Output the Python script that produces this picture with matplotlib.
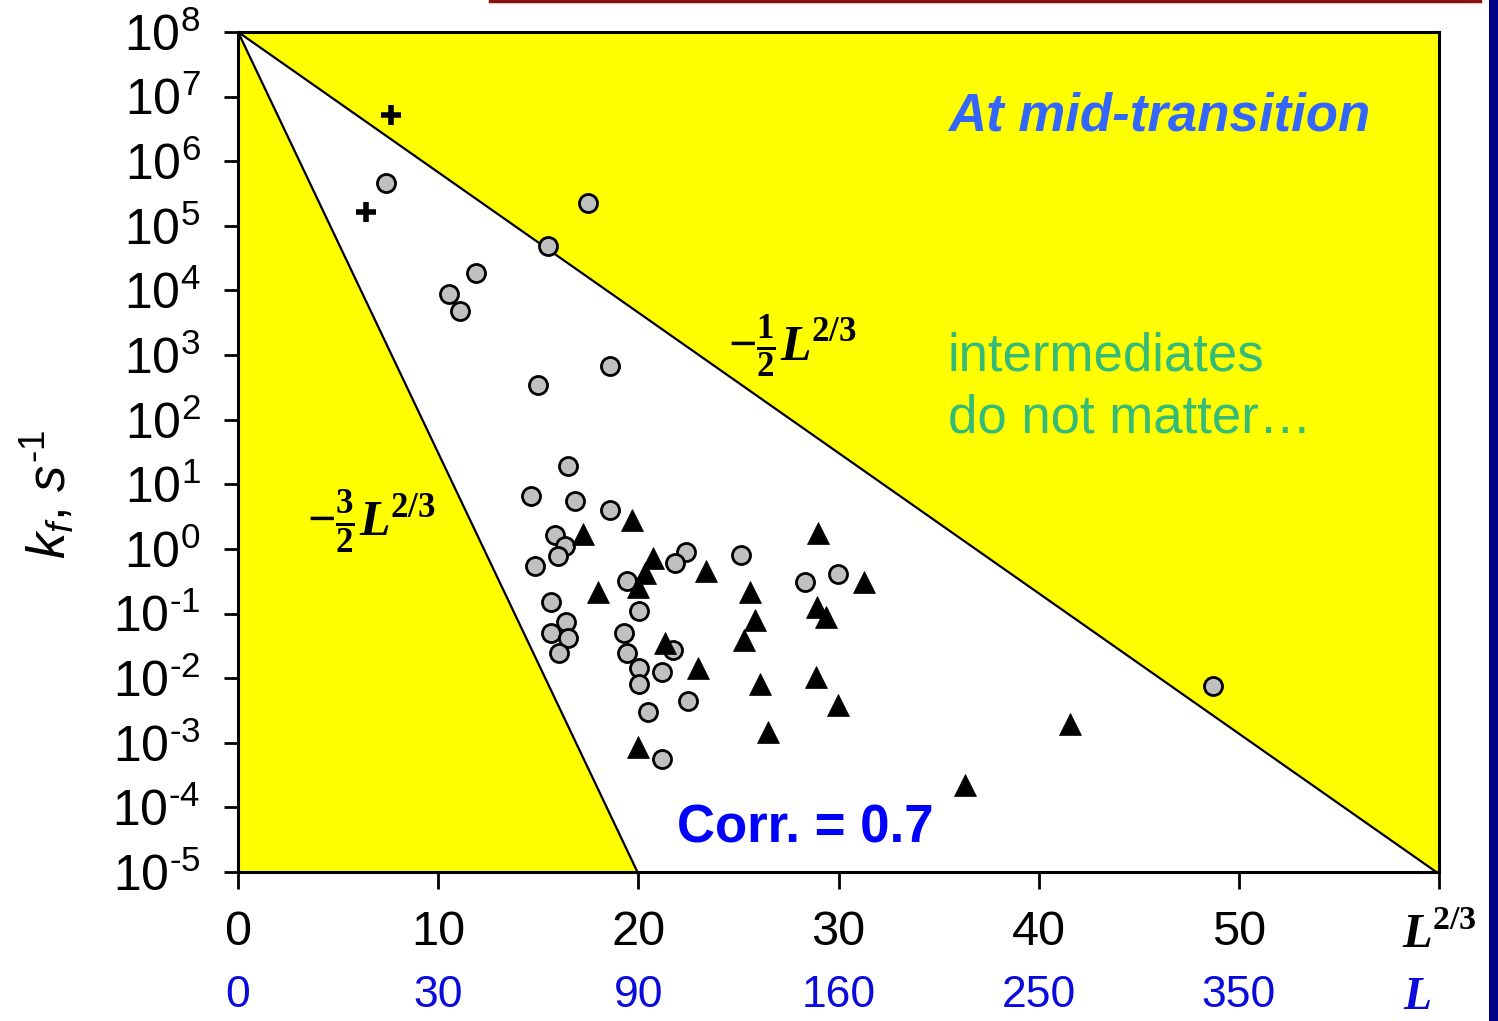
import numpy as np
import matplotlib
matplotlib.use("Agg")
import matplotlib.pyplot as plt
from matplotlib.patches import Rectangle
from matplotlib.lines import Line2D

plt.rcParams['font.family'] = ['Liberation Sans', 'DejaVu Sans']
plt.rcParams['mathtext.fontset'] = 'custom'
plt.rcParams['mathtext.rm'] = 'Liberation Sans'
plt.rcParams['mathtext.it'] = 'Liberation Sans:italic'
plt.rcParams['mathtext.bf'] = 'Liberation Serif:bold'
plt.rcParams['mathtext.bfit'] = 'Liberation Serif:bold:italic'

# ---- data: folding rate constants vs chain length (L^(2/3)) ----
cross_x = [7.64, 6.39]
cross_logk = [6.72, 5.21]

circ_x = [7.39, 17.48, 15.48, 11.89, 10.54, 11.09, 18.58, 14.99, 16.48, 14.64,
          16.83, 18.58, 15.83, 16.33, 15.98, 14.84, 22.38, 21.83, 25.12, 19.43,
          15.63, 20.03, 16.38, 15.63, 16.48, 19.28, 16.03, 19.43, 21.73, 20.03,
          21.18, 20.03, 22.48, 20.48, 21.18, 28.32, 29.97, 48.70]
circ_logk = [5.66, 5.35, 4.69, 4.27, 3.95, 3.68, 2.83, 2.54, 1.28, 0.82,
             0.74, 0.60, 0.22, 0.05, -0.11, -0.27, -0.05, -0.22, -0.09, -0.50,
             -0.82, -0.96, -1.13, -1.30, -1.38, -1.30, -1.61, -1.61, -1.56, -1.84,
             -1.91, -2.09, -2.35, -2.52, -3.25, -0.51, -0.39, -2.12]

tri_x = [19.68, 17.23, 20.73, 20.33, 19.98, 23.38, 17.98, 28.97, 31.27, 25.57,
         28.92, 29.37, 25.82, 25.27, 21.33, 22.98, 26.07, 28.87, 29.97, 26.47,
         19.98, 41.56, 36.31]
tri_logk = [0.45, 0.23, -0.14, -0.37, -0.59, -0.34, -0.67, 0.25, -0.51, -0.67,
            -0.90, -1.05, -1.10, -1.41, -1.46, -1.84, -2.09, -1.98, -2.42, -2.84,
            -3.07, -2.71, -3.66]

# bounding lines: ln k = ln k0 - c * L^(2/3)
k0 = 1e8
c_upper = 0.5
c_lower = 1.5

x_ticks = [0, 10, 20, 30, 40, 50]
x_tick_labels = ['0', '10', '20', '30', '40', '50']
L_tick_labels = ['0', '30', '90', '160', '250', '350']
y_exponents = list(range(-5, 9))

YELLOW = '#ffff00'


def exp_label(e):
    s = str(abs(e))
    if e < 0:
        s = r'\text{-}' + s
    return r'$\mathregular{10^{%s}}$' % s


fig = plt.figure(figsize=(14.98, 10.21), dpi=100)
ax = fig.add_axes([0.1589, 0.1459, 0.8017, 0.8228])
ax.set_facecolor('white')

xs = np.linspace(0, 60, 600)
upper = k0 * np.exp(-c_upper * xs)
lower = k0 * np.exp(-c_lower * xs)
lower_c = np.clip(lower, 1e-5, None)

ax.fill_between(xs, upper, 1e8, color=YELLOW, lw=0, zorder=0)
ax.fill_between(xs, 1e-5, lower_c, color=YELLOW, lw=0, zorder=0)
ax.plot(xs, upper, color='black', lw=1.6, zorder=1)
ax.plot(xs, lower, color='black', lw=1.6, zorder=1)

ax.plot(circ_x, 10 ** np.array(circ_logk), linestyle='none', marker='o',
        ms=13, mfc='#c0c0c0', mec='black', mew=2, zorder=3)
ax.plot(tri_x, 10 ** np.array(tri_logk), linestyle='none', marker='^',
        ms=16, mfc='black', mec='black', mew=0.5, zorder=4)
ax.plot(cross_x, 10 ** np.array(cross_logk), linestyle='none', marker='+',
        ms=14, mec='black', mew=4, zorder=4)

ax.set_yscale('log')
ax.set_xlim(0, 60)
ax.set_ylim(1e-5, 1e8)

ax.set_yticks([10.0 ** e for e in y_exponents])
ax.set_yticklabels([exp_label(e) for e in y_exponents])
ax.yaxis.set_minor_locator(matplotlib.ticker.NullLocator())
ax.set_xticks(x_ticks + [60])
ax.set_xticklabels(x_tick_labels + [''])

ax.tick_params(axis='y', direction='out', length=10, width=2, pad=17,
               labelsize=36, colors='black')
ax.tick_params(axis='x', direction='out', length=12, width=2, pad=15,
               labelsize=35, colors='black')
for sp in ax.spines.values():
    sp.set_linewidth(2.2)
    sp.set_color('black')

# second row of x labels: chain length L
sec = ax.secondary_xaxis('bottom')
sec.set_xticks(x_ticks, labels=L_tick_labels)
sec.tick_params(axis='x', length=0, pad=74, labelsize=32, labelcolor='#0a0adc')
sec.spines['bottom'].set_visible(False)

xt = ax.get_xaxis_transform()
ax.text(60, -0.0905, r'$\mathbfit{L}^{\mathbf{2/3}}$', transform=xt,
        ha='center', va='baseline', fontsize=35, color='black', clip_on=False)
ax.text(58.9, -0.163, r'$\mathbfit{L}$', transform=xt,
        ha='center', va='baseline', fontsize=33, color='#0a0adc', clip_on=False)

ax.set_ylabel(r'$k_{f}$, $s^{\text{-}1}$', fontsize=38)
ax.yaxis.set_label_coords(-0.134, 0.449)

# line labels
ax.text(0.462, 0.626, r'$\mathbf{-\frac{1}{2}}\mathbfit{L}^{\mathbf{2/3}}$',
        transform=ax.transAxes, ha='center', va='center', fontsize=36)
ax.text(0.1107, 0.4167, r'$\mathbf{-\frac{3}{2}}\mathbfit{L}^{\mathbf{2/3}}$',
        transform=ax.transAxes, ha='center', va='center', fontsize=36)

# annotations
ax.text(0.591, 0.883, 'At mid-transition', transform=ax.transAxes,
        ha='left', va='baseline', fontsize=38, fontweight='bold',
        fontstyle='italic', color='#3366ff')
ax.text(0.591, 0.5976, 'intermediates', transform=ax.transAxes,
        ha='left', va='baseline', fontsize=38, color='#33bb77')
ax.text(0.591, 0.5238, 'do not matter…', transform=ax.transAxes,
        ha='left', va='baseline', fontsize=38, color='#33bb77')
ax.text(0.3655, 0.0357, 'Corr. = 0.7', transform=ax.transAxes,
        ha='left', va='baseline', fontsize=38, fontweight='bold',
        color='#0000ff')

# slide decorations: top rule and right-hand band
fig.add_artist(Line2D([490 / 1498, 1480 / 1498], [1 - 1.5 / 1021, 1 - 1.5 / 1021],
                      transform=fig.transFigure, color='#8b1010', lw=2.5))
fig.add_artist(Rectangle((1489 / 1498, 0), 9 / 1498, 1, transform=fig.transFigure,
                         color='#00008b', lw=0))

fig.savefig('out.png', dpi=100)
